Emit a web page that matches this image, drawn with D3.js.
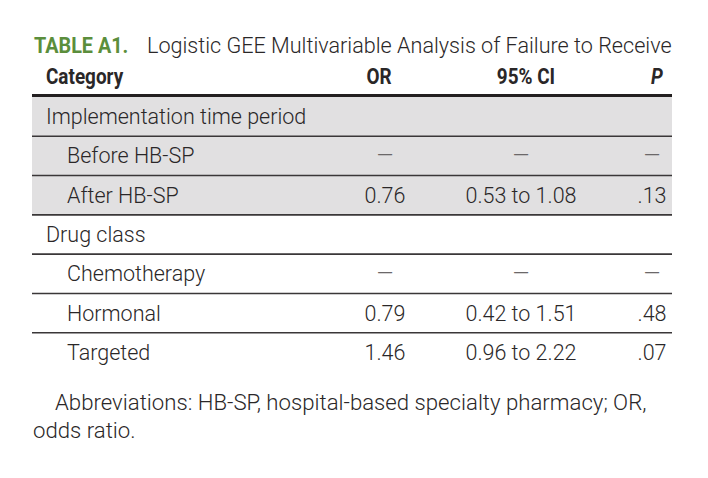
<!DOCTYPE html>
<html>
<head>
<meta charset="utf-8">
<script src="https://cdn.jsdelivr.net/npm/d3@7"></script>
<style>
  body { margin: 0; background: #fff; }
  svg { display: block; }
  text { font-family: Roboto, "Liberation Sans", sans-serif; fill: #2a2728; }
</style>
</head>
<body>
<script>
const W = 708, H = 478

const titleTag = 'TABLE A1.'
const titleText = 'Logistic GEE Multivariable Analysis of Failure to Receive'
const headers = ['Category', 'OR', '95% CI', 'P']

const rowLabels = ['Implementation time period', 'Before HB-SP', 'After HB-SP',
  'Drug class', 'Chemotherapy', 'Hormonal', 'Targeted']
const rowLevel = [0, 1, 1, 0, 1, 1, 1]
const rowGroup = [0, 0, 0, 1, 1, 1, 1]

const orValues = ['', '\u2014', '0.76', '', '\u2014', '0.79', '1.46']
const ciValues = ['', '\u2014', '0.53 to 1.08', '', '\u2014', '0.42 to 1.51', '0.96 to 2.22']
const pValues = ['', '\u2014', '.13', '', '\u2014', '.48', '.07']

const footnote = ['Abbreviations: HB-SP, hospital-based specialty pharmacy; OR,', 'odds ratio.']

const tabla = {izq: 32, der: 672, topo: 97, base: 372}

const svg = d3.select('body').append('svg')
  .attr('width', W)
  .attr('height', H)

// filas
const y = d3.scaleBand()
  .domain(d3.range(rowLabels.length))
  .range([tabla.topo, tabla.base])

// columnas (centros)
const colX = d3.scaleOrdinal()
  .domain(['OR', 'CI', 'P'])
  .range([385, 521, 652])
const headX = d3.scaleOrdinal()
  .domain(['OR', 'CI', 'P'])
  .range([379, 526, 657])

// fondo gris del primer grupo
svg.selectAll('rect.fondo')
  .data(d3.range(rowLabels.length).filter(i => rowGroup[i] === 0))
  .join('rect')
    .attr('class', 'fondo')
    .attr('x', tabla.izq)
    .attr('y', i => y(i))
    .attr('width', tabla.der - tabla.izq)
    .attr('height', y.bandwidth())
    .attr('fill', '#e1e0e1')

// titulo
svg.append('text')
  .attr('transform', 'translate(34,53) scale(0.9,1)')
  .style('font-size', '22px')
  .style('font-weight', 700)
  .style('fill', '#5b8e3c')
  .text(titleTag)

svg.append('text')
  .attr('x', 147)
  .attr('y', 53)
  .style('font-size', '21.6px')
  .style('font-weight', 300)
  .text(titleText)

// encabezados
svg.selectAll('text.head')
  .data(headers)
  .join('text')
    .attr('class', 'head')
    .attr('transform', (d, i) => i === 0
      ? 'translate(46,84) scale(0.86,1)'
      : 'translate(' + headX(['OR', 'CI', 'P'][i - 1]) + ',84) scale(0.86,1)')
    .attr('text-anchor', (d, i) => i === 0 ? 'start' : 'middle')
    .style('font-size', '22px')
    .style('font-weight', 700)
    .style('font-style', d => d === 'P' ? 'italic' : 'normal')
    .text(d => d)

// linea gruesa
svg.append('line')
  .attr('x1', tabla.izq).attr('x2', tabla.der)
  .attr('y1', 95.5).attr('y2', 95.5)
  .attr('stroke', '#231f20')
  .attr('stroke-width', 3)

// lineas entre filas
svg.selectAll('line.sep')
  .data(d3.range(1, rowLabels.length))
  .join('line')
    .attr('class', 'sep')
    .attr('x1', tabla.izq).attr('x2', tabla.der)
    .attr('y1', i => y(i)).attr('y2', i => y(i))
    .attr('stroke', '#3a3738')
    .attr('stroke-width', 1.6)

const baseY = i => y(i) + y.bandwidth() / 2 + 7.5

// etiquetas
svg.selectAll('text.label')
  .data(rowLabels)
  .join('text')
    .attr('class', 'label')
    .attr('x', (d, i) => rowLevel[i] === 0 ? 46 : 67)
    .attr('y', (d, i) => baseY(i))
    .style('font-size', '21.5px')
    .style('font-weight', 300)
    .text(d => d)

// valores
const columnas = [['OR', orValues], ['CI', ciValues], ['P', pValues]]
columnas.forEach(([clave, valores]) => {
  svg.selectAll('text.val-' + clave)
    .data(valores)
    .join('text')
      .attr('class', 'val-' + clave)
      .attr('x', colX(clave))
      .attr('y', (d, i) => baseY(i))
      .attr('text-anchor', 'middle')
      .style('font-size', '21.5px')
      .style('font-weight', 300)
      .style('fill', d => d === '\u2014' ? '#6b6869' : null)
      .text(d => d)
})

// nota al pie
svg.selectAll('text.nota')
  .data(footnote)
  .join('text')
    .attr('class', 'nota')
    .attr('x', (d, i) => i === 0 ? 55 : 33)
    .attr('y', (d, i) => 410 + i * 28)
    .style('font-size', '22.2px')
    .style('font-weight', 300)
    .text(d => d)
</script>
</body>
</html>
